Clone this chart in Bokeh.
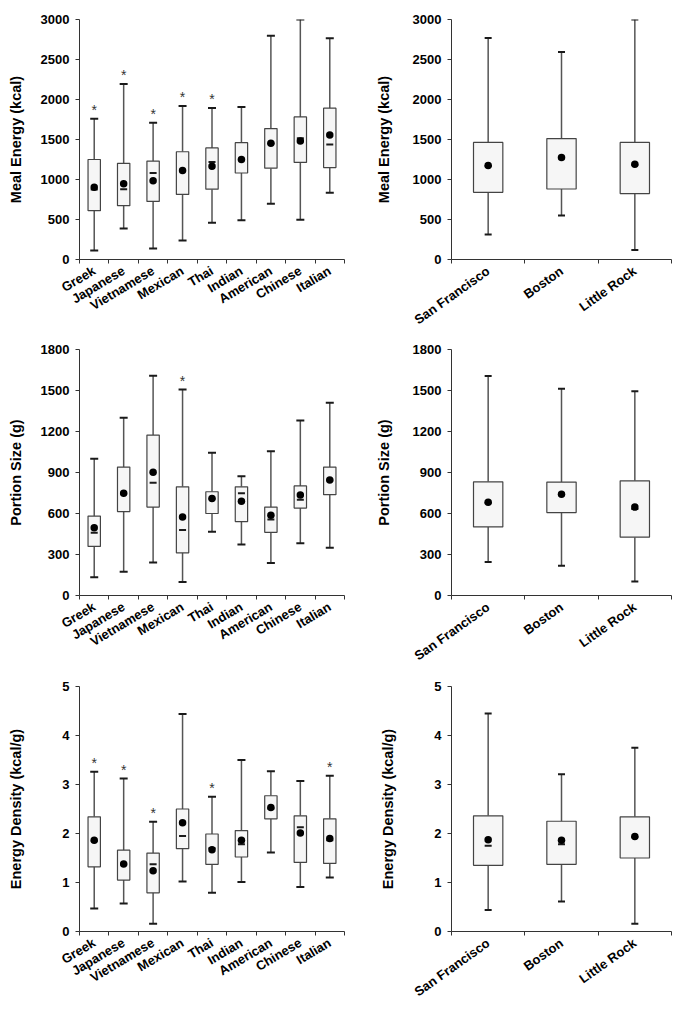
from bokeh.plotting import figure
from bokeh.layouts import column, row
from bokeh.models import Range1d, FixedTicker, ColumnDataSource
from bokeh.core.properties import value
from bokeh.embed import file_html
from bokeh.resources import INLINE

FONT = "Liberation Sans"

# ---------------- data ----------------
cuisines = ["Greek", "Japanese", "Vietnamese", "Mexican", "Thai", "Indian",
            "American", "Chinese", "Italian"]
cities = ["San Francisco", "Boston", "Little Rock"]

energy_ticks = [0, 500, 1000, 1500, 2000, 2500, 3000]
portion_ticks = [0, 300, 600, 900, 1200, 1500, 1800]
density_ticks = [0, 1, 2, 3, 4, 5]

# Meal energy (kcal) by cuisine
ec_lo = [113, 387, 137, 238, 460, 492, 698, 496, 835]
ec_q1 = [610, 673, 726, 814, 879, 1081, 1141, 1214, 1149]
ec_med = [875, 879, 1081, 1110, 1218, 1248, 1450, 1516, 1439]
ec_mean = [903, 948, 984, 1113, 1165, 1250, 1452, 1480, 1556]
ec_q3 = [1250, 1202, 1230, 1347, 1395, 1460, 1637, 1782, 1891]
ec_hi = [1758, 2193, 1710, 1919, 1895, 1907, 2798, 3000, 2766]
ec_star = [1, 1, 1, 1, 1, 0, 0, 0, 0]

# Meal energy (kcal) by city
ek_lo = [311, 549, 119]
ek_q1 = [840, 881, 824]
ek_med = [1170, 1266, 1184]
ek_mean = [1176, 1274, 1192]
ek_q3 = [1463, 1512, 1463]
ek_hi = [2770, 2594, 3000]
ek_star = [0, 0, 0]

# Portion size (g) by cuisine
pc_lo = [134, 173, 241, 98, 466, 373, 237, 382, 349]
pc_q1 = [359, 614, 647, 312, 600, 541, 462, 640, 738]
pc_med = [459, 746, 825, 480, 708, 748, 556, 701, 844]
pc_mean = [495, 748, 902, 574, 710, 689, 588, 736, 846]
pc_q3 = [581, 940, 1174, 795, 759, 795, 647, 802, 940]
pc_hi = [1001, 1301, 1608, 1507, 1045, 872, 1055, 1280, 1411]
pc_star = [0, 0, 0, 1, 0, 0, 0, 0, 0]

# Portion size (g) by city
pk_lo = [246, 218, 103]
pk_q1 = [502, 607, 427]
pk_med = [678, 736, 633]
pk_mean = [682, 741, 647]
pk_q3 = [832, 830, 839]
pk_hi = [1606, 1512, 1495]
pk_star = [0, 0, 0]

# Energy density (kcal/g) by cuisine
dc_lo = [0.47, 0.57, 0.16, 1.02, 0.79, 1.01, 1.61, 0.91, 1.10]
dc_q1 = [1.32, 1.05, 0.79, 1.69, 1.37, 1.52, 2.30, 1.41, 1.39]
dc_med = [1.85, 1.37, 1.37, 1.95, 1.70, 1.78, 2.51, 2.13, 1.86]
dc_mean = [1.86, 1.38, 1.24, 2.22, 1.67, 1.86, 2.53, 2.01, 1.90]
dc_q3 = [2.34, 1.66, 1.60, 2.50, 1.99, 2.06, 2.77, 2.36, 2.30]
dc_hi = [3.26, 3.12, 2.24, 4.44, 2.75, 3.50, 3.27, 3.07, 3.18]
dc_star = [1, 1, 1, 0, 1, 0, 0, 0, 1]

# Energy density (kcal/g) by city
dk_lo = [0.44, 0.61, 0.16]
dk_q1 = [1.35, 1.37, 1.50]
dk_med = [1.75, 1.78, 1.93]
dk_mean = [1.87, 1.86, 1.94]
dk_q3 = [2.36, 2.25, 2.34]
dk_hi = [4.45, 3.21, 3.75]
dk_star = [0, 0, 0]


def panel(cats, lo, q1, med, mean, q3, hi, stars, yticks, ylabel,
          width, height, mbl, mbr, mbt, mbb, box_w, cap, angle, lab_stand):
    n = len(cats)
    xs = [i + 0.5 for i in range(n)]
    p = figure(width=width, height=height, output_backend="svg",
               toolbar_location=None,
               x_range=Range1d(0, n), y_range=Range1d(yticks[0], yticks[-1]),
               min_border_left=mbl, min_border_right=mbr,
               min_border_top=mbt, min_border_bottom=mbb)
    p.outline_line_color = None
    p.grid.visible = False
    p.background_fill_color = "white"
    p.border_fill_color = "white"

    src = ColumnDataSource(dict(x=xs, lo=lo, q1=q1, med=med, mean=mean,
                                q3=q3, hi=hi))
    p.segment(x0="x", y0="q3", x1="x", y1="hi", source=src,
              line_color="#555555", line_width=1.5)
    p.segment(x0="x", y0="lo", x1="x", y1="q1", source=src,
              line_color="#555555", line_width=1.5)
    p.vbar(x="x", width=box_w, bottom="q1", top="q3", source=src,
           fill_color="#f6f6f6", line_color="#444444", line_width=1.2)
    p.scatter(x="x", y="hi", marker="dash", size=cap, line_width=2,
              line_color="#1a1a1a", source=src)
    p.scatter(x="x", y="lo", marker="dash", size=cap, line_width=2,
              line_color="#1a1a1a", source=src)
    p.scatter(x="x", y="med", marker="dash", size=7, line_width=2,
              line_color="#1a1a1a", source=src)
    p.scatter(x="x", y="mean", marker="circle", size=7.5,
              fill_color="black", line_color=None, source=src)

    sx = [xs[i] for i in range(n) if stars[i]]
    sy = [hi[i] for i in range(n) if stars[i]]
    if sx:
        p.text(x=sx, y=sy, text=["*"] * len(sx), text_align="center",
               text_baseline="alphabetic", y_offset=-9,
               text_font=value(FONT), text_font_size="14px",
               text_color="#333333")

    xa = p.xaxis[0]
    xa.ticker = FixedTicker(ticks=xs, minor_ticks=list(range(n + 1)))
    xa.major_label_overrides = {x: c for x, c in zip(xs, cats)}
    xa.major_label_orientation = angle
    xa.major_tick_in = 0
    xa.major_tick_out = 0
    xa.minor_tick_in = 0
    xa.minor_tick_out = 4
    xa.axis_line_color = "#333333"
    xa.minor_tick_line_color = "#333333"
    xa.major_label_text_font = FONT
    xa.major_label_text_font_style = "bold"
    xa.major_label_text_font_size = "13px"
    xa.major_label_text_color = "black"
    xa.major_label_standoff = 6

    ya = p.yaxis[0]
    ya.ticker = FixedTicker(ticks=yticks)
    ya.minor_tick_line_color = None
    ya.major_tick_in = 0
    ya.major_tick_out = 4
    ya.axis_line_color = "#333333"
    ya.major_tick_line_color = "#333333"
    ya.major_label_text_font = FONT
    ya.major_label_text_font_style = "bold"
    ya.major_label_text_font_size = "13px"
    ya.major_label_text_color = "black"
    ya.major_label_standoff = 6
    ya.axis_label = ylabel
    ya.axis_label_text_font = FONT
    ya.axis_label_text_font_style = "bold"
    ya.axis_label_text_font_size = "14.5px"
    ya.axis_label_text_color = "black"
    ya.axis_label_standoff = lab_stand
    return p


A_L = 0.54
A_R = 0.62

# left column: x 0..348 (frame 79..344); right column: x 348..674 (frame 451..671)
p1 = panel(cuisines, ec_lo, ec_q1, ec_med, ec_mean, ec_q3, ec_hi, ec_star,
           energy_ticks, "Meal Energy (kcal)",
           348, 336, 79, 4, 15, 73, 0.42, 8, A_L, 14)
p2 = panel(cities, ek_lo, ek_q1, ek_med, ek_mean, ek_q3, ek_hi, ek_star,
           energy_ticks, "Meal Energy (kcal)",
           326, 336, 103, 3, 19, 73, 0.40, 7, A_R, 18)
p3 = panel(cuisines, pc_lo, pc_q1, pc_med, pc_mean, pc_q3, pc_hi, pc_star,
           portion_ticks, "Portion Size (g)",
           348, 336, 79, 4, 13, 67, 0.42, 8, A_L, 14)
p4 = panel(cities, pk_lo, pk_q1, pk_med, pk_mean, pk_q3, pk_hi, pk_star,
           portion_ticks, "Portion Size (g)",
           326, 336, 103, 3, 13, 67, 0.40, 7, A_R, 18)
p5 = panel(cuisines, dc_lo, dc_q1, dc_med, dc_mean, dc_q3, dc_hi, dc_star,
           density_ticks, "Energy Density (kcal/g)",
           348, 336, 79, 4, 13, 67, 0.42, 8, A_L, 35)
p6 = panel(cities, dk_lo, dk_q1, dk_med, dk_mean, dk_q3, dk_hi, dk_star,
           density_ticks, "Energy Density (kcal/g)",
           326, 336, 103, 3, 14, 66, 0.40, 7, A_R, 35)

layout = column(row(p1, p2), row(p3, p4), row(p5, p6))

open("out.html", "w").write(file_html(layout, INLINE))
